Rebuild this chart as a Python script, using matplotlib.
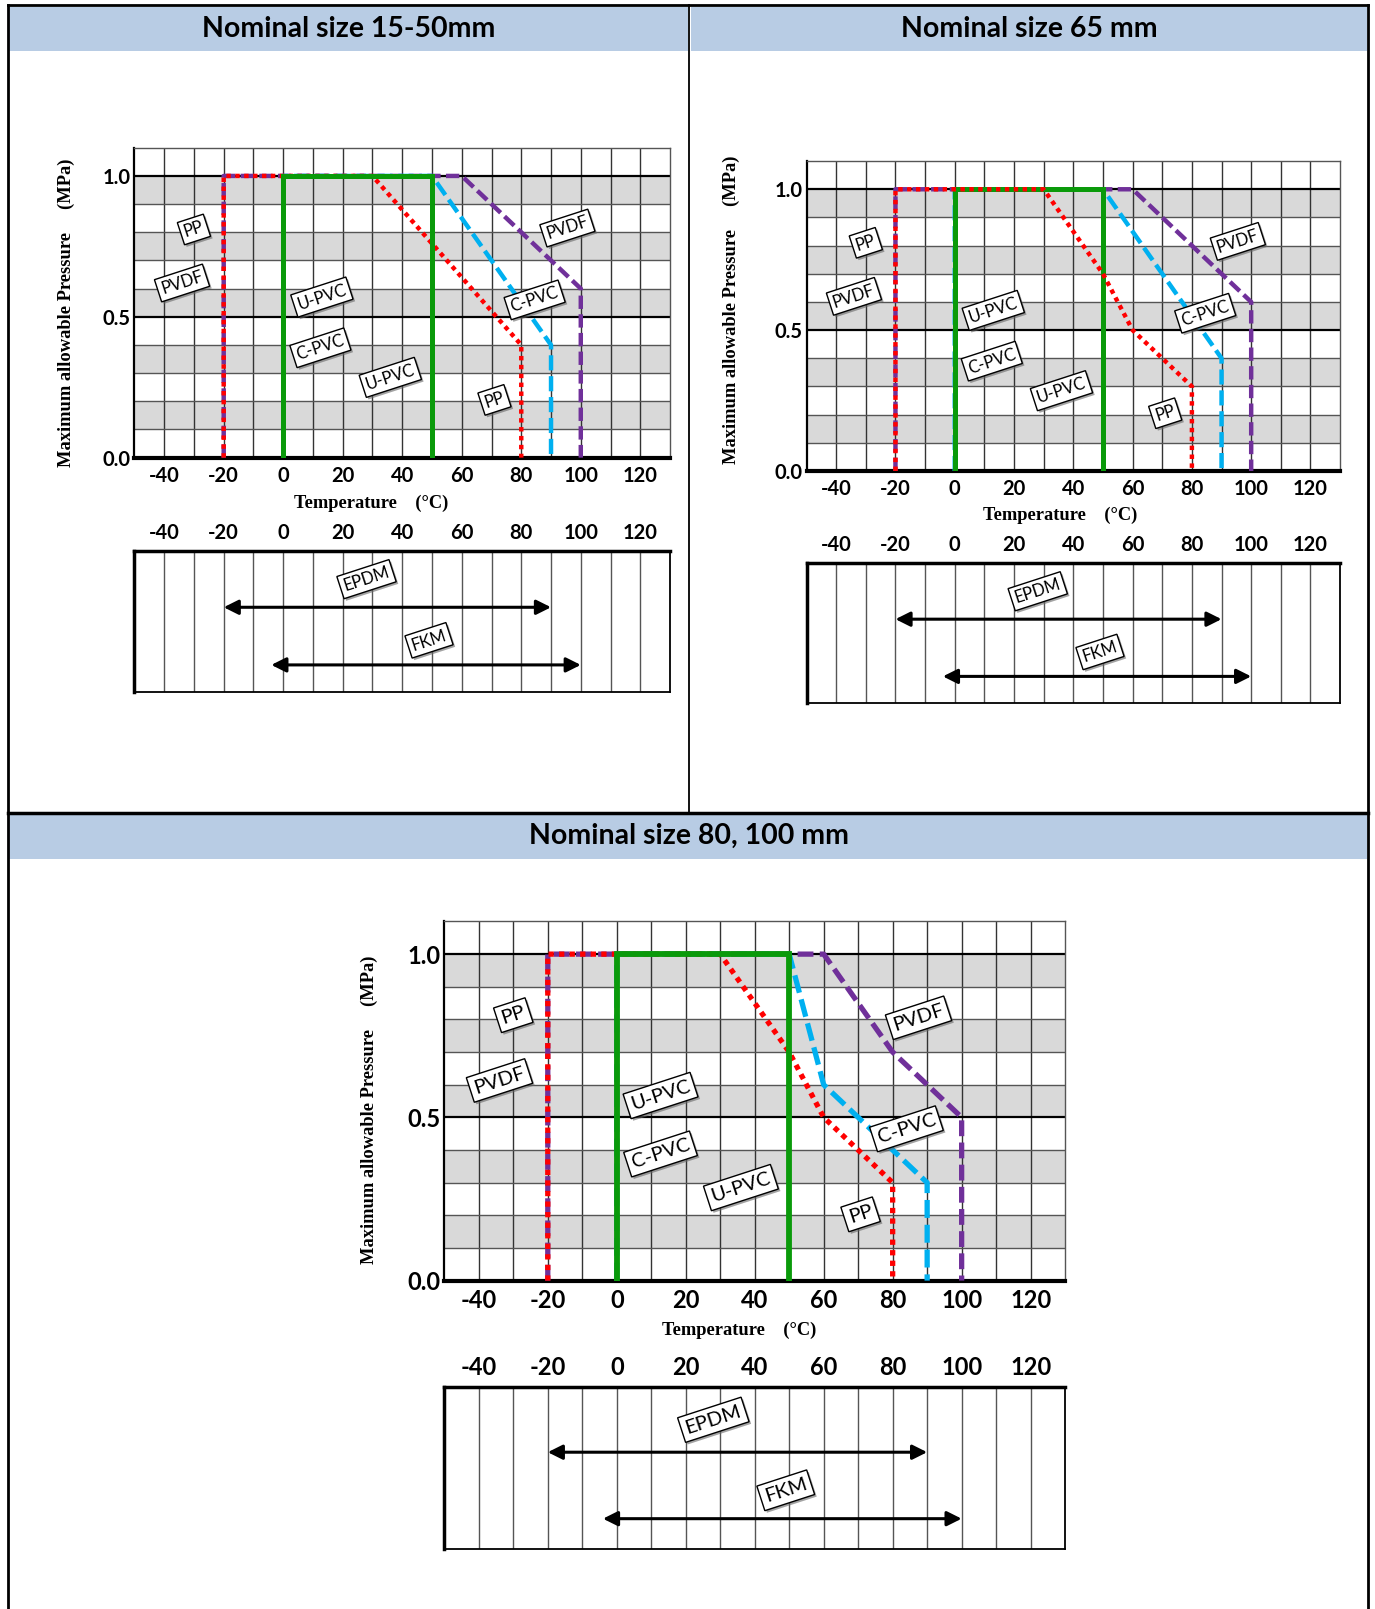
import matplotlib
matplotlib.use("Agg")
import matplotlib.pyplot as plt
import matplotlib.patheffects as pe
from matplotlib.patches import Rectangle
import numpy as np

plt.rcParams['font.family'] = ['Lato', 'DejaVu Sans']
plt.rcParams['axes.unicode_minus'] = False

# ---------------- data ----------------
TEMP_TICKS = [-40, -20, 0, 20, 40, 60, 80, 100, 120]
PRESS_TICKS = [0.0, 0.5, 1.0]
PRESS_TICK_LABELS = ["0.0", "0.5", "1.0"]
BAND_STARTS = [0.1, 0.3, 0.5, 0.7, 0.9]

UPVC_T = [0, 0, 50, 50]
UPVC_P = [0, 1.0, 1.0, 0]

# 15-50mm
P1_PP_T = [-20, -20, 30, 80, 80]
P1_PP_P = [0, 1.0, 1.0, 0.4, 0]
P1_PVDF_T = [-20, -20, 60, 100, 100]
P1_PVDF_P = [0, 1.0, 1.0, 0.6, 0]
P1_CPVC_T = [0, 0, 50, 90, 90]
P1_CPVC_P = [0, 1.0, 1.0, 0.4, 0]

# 65mm
P2_PP_T = [-20, -20, 30, 50, 60, 80, 80]
P2_PP_P = [0, 1.0, 1.0, 0.7, 0.5, 0.3, 0]
P2_PVDF_T = [-20, -20, 60, 100, 100]
P2_PVDF_P = [0, 1.0, 1.0, 0.6, 0]
P2_CPVC_T = [0, 0, 50, 90, 90]
P2_CPVC_P = [0, 1.0, 1.0, 0.4, 0]

# 80, 100mm
P3_PP_T = [-20, -20, 30, 50, 60, 80, 80]
P3_PP_P = [0, 1.0, 1.0, 0.7, 0.5, 0.3, 0]
P3_PVDF_T = [-20, -20, 60, 80, 100, 100]
P3_PVDF_P = [0, 1.0, 1.0, 0.7, 0.5, 0]
P3_CPVC_T = [0, 0, 50, 60, 90, 90]
P3_CPVC_P = [0, 1.0, 1.0, 0.6, 0.3, 0]

SEALS = ["EPDM", "FKM"]
SEAL_MIN = [-20, -4]
SEAL_MAX = [90, 100]

HEADERS = ["Nominal size 15-50mm", "Nominal size 65 mm", "Nominal size 80, 100 mm"]

# label anchors (text, temp, pressure)
LABELS_A = [("PP", -30, 0.81), ("PVDF", -34, 0.62), ("U-PVC", 13, 0.57),
            ("C-PVC", 12.5, 0.39), ("U-PVC", 36, 0.285), ("PP", 71, 0.205),
            ("PVDF", 95.5, 0.815), ("C-PVC", 84.5, 0.56)]
LABELS_B = [("PP", -30, 0.813), ("PVDF", -34, 0.613), ("U-PVC", 12.7, 0.567),
            ("C-PVC", 12.7, 0.388), ("U-PVC", 36, 0.285), ("PP", 70.7, 0.203),
            ("PVDF", 87.5, 0.805), ("C-PVC", 84, 0.465)]
SEAL_LABELS = [("EPDM", 28, 0.80), ("FKM", 49, 0.365)]
SEAL_ROWS = [0.6, 0.19]

# ---------------- layout (reference px, 1340x1568) ----------------
W, H = 1340, 1568
fig = plt.figure(figsize=(13.75, 16.09), dpi=100)
bg = fig.add_axes([0, 0, 1, 1])
bg.set_xlim(0, W)
bg.set_ylim(H, 0)
bg.axis('off')

HEAD_BLUE = '#b8cce4'
BAND = '#d9d9d9'
RED = '#ff0000'
PURPLE = '#70309a'
BLUE = '#00b0f0'
GREEN = '#0a9a0a'


def box(l, t, r, b):
    return [l / W, 1 - b / H, (r - l) / W, (b - t) / H]


# frame and header bars
bg.add_patch(Rectangle((9, 7), 661, 43, color=HEAD_BLUE, lw=0))
bg.add_patch(Rectangle((673, 7), 659, 43, color=HEAD_BLUE, lw=0))
bg.add_patch(Rectangle((9, 794), 1323, 43, color=HEAD_BLUE, lw=0))
bg.plot([8, 1333], [5, 5], color='black', lw=2)
bg.plot([8, 8], [5, H], color='black', lw=2)
bg.plot([1333, 1333], [5, H], color='black', lw=2)
bg.plot([671, 671], [5, 792], color='black', lw=1.3)
bg.plot([8, 1333], [792, 792], color='black', lw=2.5)

hfont = dict(fontweight='bold', fontsize=20.5, ha='center', va='center')
bg.text(340, 28, HEADERS[0], **hfont)
bg.text(1003, 28, HEADERS[1], **hfont)
bg.text(671, 815, HEADERS[2], **hfont)

serif = dict(family=['Liberation Serif', 'DejaVu Serif'], fontweight='bold', fontsize=13.3)


def label_box(ax, x, y, s, fs):
    t = ax.text(x, y, s, fontsize=fs, ha='center', va='center', rotation=18,
                rotation_mode='anchor', zorder=8,
                bbox=dict(boxstyle='square,pad=0.22', fc='white', ec='black', lw=1))
    t.get_bbox_patch().set_path_effects([
        pe.SimplePatchShadow(offset=(1.5, -1.5), shadow_rgbFace='0.4', alpha=0.6),
        pe.Normal()])


def pressure_chart(ax, pp, pvdf, cpvc, labels, fs_tick, fs_lab, lw, pp_z):
    ax.set_xlim(-50, 130)
    ax.set_ylim(0, 1.1)
    for y0 in BAND_STARTS:
        ax.axhspan(y0, y0 + 0.1, color=BAND, lw=0, zorder=0)
    ax.set_xticks(TEMP_TICKS)
    ax.set_xticks(np.arange(-30, 130, 20), minor=True)
    ax.set_yticks(PRESS_TICKS)
    ax.set_yticklabels(PRESS_TICK_LABELS)
    ax.set_yticks(np.arange(0.1, 1.1, 0.1), minor=True)
    ax.set_axisbelow(True)
    ax.grid(axis='x', which='both', color='#333333', lw=1)
    ax.grid(axis='y', which='minor', color='#555555', lw=1)
    ax.grid(axis='y', which='major', color='black', lw=1.6)
    ax.tick_params(which='both', length=0, labelsize=fs_tick)
    ax.tick_params(axis='x', pad=6)
    ax.tick_params(axis='y', pad=3)
    plt.setp(ax.get_xticklabels() + ax.get_yticklabels(), fontweight='bold')
    ax.spines['bottom'].set_linewidth(3)
    ax.spines['left'].set_linewidth(1.6)
    for s in ('top', 'right'):
        ax.spines[s].set_linewidth(1)
        ax.spines[s].set_color('#555555')
    ax.set_facecolor('white')

    ax.plot(pvdf[0], pvdf[1], color=PURPLE, lw=lw, dashes=(3, 1.2),
            dash_capstyle='butt', zorder=3)
    ax.plot(cpvc[0], cpvc[1], color=BLUE, lw=lw, dashes=(3.4, 1.3),
            dash_capstyle='butt', zorder=3.5)
    ax.plot(pp[0], pp[1], color=RED, lw=lw, dashes=(1, 1),
            dash_capstyle='butt', zorder=pp_z)
    ax.plot(UPVC_T, UPVC_P, color=GREEN, lw=lw + 0.4, zorder=5,
            solid_joinstyle='miter')
    for s, x, y in labels:
        label_box(ax, x, y, s, fs_lab)


def seal_chart(ax, fs_tick, fs_lab):
    ax.set_xlim(-50, 130)
    ax.set_ylim(0, 1)
    ax.xaxis.tick_top()
    ax.set_xticks(TEMP_TICKS)
    ax.set_xticks(np.arange(-30, 130, 20), minor=True)
    ax.set_yticks([])
    ax.set_axisbelow(True)
    ax.grid(axis='x', which='both', color='#555555', lw=1)
    ax.tick_params(which='both', length=0, labelsize=fs_tick, pad=6)
    plt.setp(ax.get_xticklabels(), fontweight='bold')
    for s in ('top', 'left'):
        ax.spines[s].set_linewidth(2.5)
    for s in ('bottom', 'right'):
        ax.spines[s].set_linewidth(1.3)
    for lo, hi, y in zip(SEAL_MIN, SEAL_MAX, SEAL_ROWS):
        ax.annotate('', xy=(hi, y), xytext=(lo, y),
                    arrowprops=dict(arrowstyle='<|-|>', color='black', lw=2.2,
                                    mutation_scale=22, shrinkA=0, shrinkB=0))
    for s, x, y in SEAL_LABELS:
        label_box(ax, x, y, s, fs_lab)


YLAB = "Maximum allowable Pressure     (MPa)"
XLAB = "Temperature    (°C)"

# panel 1
a1 = fig.add_axes(box(131, 144, 653, 446))
pressure_chart(a1, (P1_PP_T, P1_PP_P), (P1_PVDF_T, P1_PVDF_P), (P1_CPVC_T, P1_CPVC_P),
               LABELS_A, 14.5, 12, 3.2, 4)
s1 = fig.add_axes(box(131, 537, 653, 674))
seal_chart(s1, 14.5, 12)
bg.text(65, 305, YLAB, rotation=90, ha='center', va='center', **serif)
bg.text(362, 491, XLAB, ha='center', va='center', **serif)

# panel 2
a2 = fig.add_axes(box(786, 157, 1306, 459))
pressure_chart(a2, (P2_PP_T, P2_PP_P), (P2_PVDF_T, P2_PVDF_P), (P2_CPVC_T, P2_CPVC_P),
               LABELS_A, 14.5, 12, 3.2, 6)
s2 = fig.add_axes(box(786, 549, 1306, 685))
seal_chart(s2, 14.5, 12)
bg.text(713, 302, YLAB, rotation=90, ha='center', va='center', **serif)
bg.text(1033, 502, XLAB, ha='center', va='center', **serif)

# panel 3
a3 = fig.add_axes(box(433, 898, 1038, 1248))
pressure_chart(a3, (P3_PP_T, P3_PP_P), (P3_PVDF_T, P3_PVDF_P), (P3_CPVC_T, P3_CPVC_P),
               LABELS_B, 17, 14.5, 3.8, 4)
s3 = fig.add_axes(box(433, 1352, 1038, 1510))
seal_chart(s3, 17, 14.5)
bg.text(360, 1081, YLAB, rotation=90, ha='center', va='center', **serif)
bg.text(720, 1296, XLAB, ha='center', va='center', **serif)

fig.savefig("out.png", dpi=100)
